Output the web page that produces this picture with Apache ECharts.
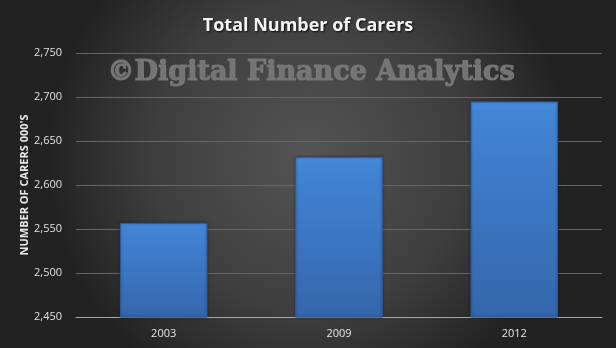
<!DOCTYPE html>
<html><head><meta charset="utf-8">
<script src="https://cdn.jsdelivr.net/npm/echarts@6/dist/echarts.min.js"></script>
<style>html,body{margin:0;padding:0;background:#333;}#c{width:616px;height:348px;}</style>
</head><body><div id="c"></div>
<script>
const categories = ['2003', '2009', '2012'];
const carers = [2557, 2632, 2695];
const yMin = 2450, yMax = 2750, yStep = 50;
const titleText = 'Total Number of Carers';
const yAxisTitle = "NUMBER OF CARERS 000'S";
const watermark = '©Digital Finance Analytics';

const chart = echarts.init(document.getElementById('c'), null, {renderer: 'canvas'});
chart.setOption({
  animation: false,
  backgroundColor: {
    type: 'radial', x: 0.5, y: 0.45, r: 0.75,
    colorStops: [{offset: 0, color: '#545454'}, {offset: 0.6, color: '#3e3e3e'}, {offset: 1, color: '#222222'}]
  },
  title: {
    text: titleText, left: 'center', top: 12,
    textStyle: {color: '#f4f4f4', fontFamily: 'Open Sans', fontWeight: 'bold', fontSize: 18,
      textShadowColor: 'rgba(0,0,0,0.8)', textShadowBlur: 2, textShadowOffsetX: 1, textShadowOffsetY: 1}
  },
  graphic: [{
    type: 'text', left: 107, top: 59, z: 0,
    style: {text: watermark, fill: '#7a7a7a', stroke: '#7a7a7a', lineWidth: 1.2,
      font: 'bold 27px "DejaVu Serif"', opacity: 0.9}
  }],
  grid: {left: 76, right: 14, top: 53, bottom: 31, containLabel: false},
  xAxis: {
    type: 'category', data: categories,
    axisLine: {lineStyle: {color: '#a8a8a8', width: 1}},
    axisTick: {show: false},
    axisLabel: {color: '#e6e6e6', fontFamily: 'Open Sans', fontSize: 11, margin: 11}
  },
  yAxis: {
    type: 'value', min: yMin, max: yMax, interval: yStep,
    name: yAxisTitle, nameLocation: 'middle', nameGap: 46, nameRotate: 90, nameMoveOverlap: false,
    nameTextStyle: {color: '#e8e8e8', fontFamily: 'Open Sans', fontWeight: 'bold', fontSize: 11},
    axisLine: {show: false}, axisTick: {show: false},
    axisLabel: {color: '#e0e0e0', fontFamily: 'Open Sans', fontSize: 11, margin: 14,
      formatter: v => v.toLocaleString('en-US')},
    splitLine: {lineStyle: {color: '#666666', width: 1}}
  },
  series: [{
    type: 'bar', data: carers, barWidth: '50%', z: 3,
    itemStyle: {
      color: {type: 'linear', x: 0, y: 0, x2: 0, y2: 1,
        colorStops: [{offset: 0, color: '#4a8bdb'}, {offset: 0.05, color: '#4284d6'}, {offset: 1, color: '#3566ab'}]},
      borderColor: '#2d5a99', borderWidth: 1,
      shadowColor: 'rgba(0,0,0,0.35)', shadowBlur: 3
    }
  }]
});
</script></body></html>
